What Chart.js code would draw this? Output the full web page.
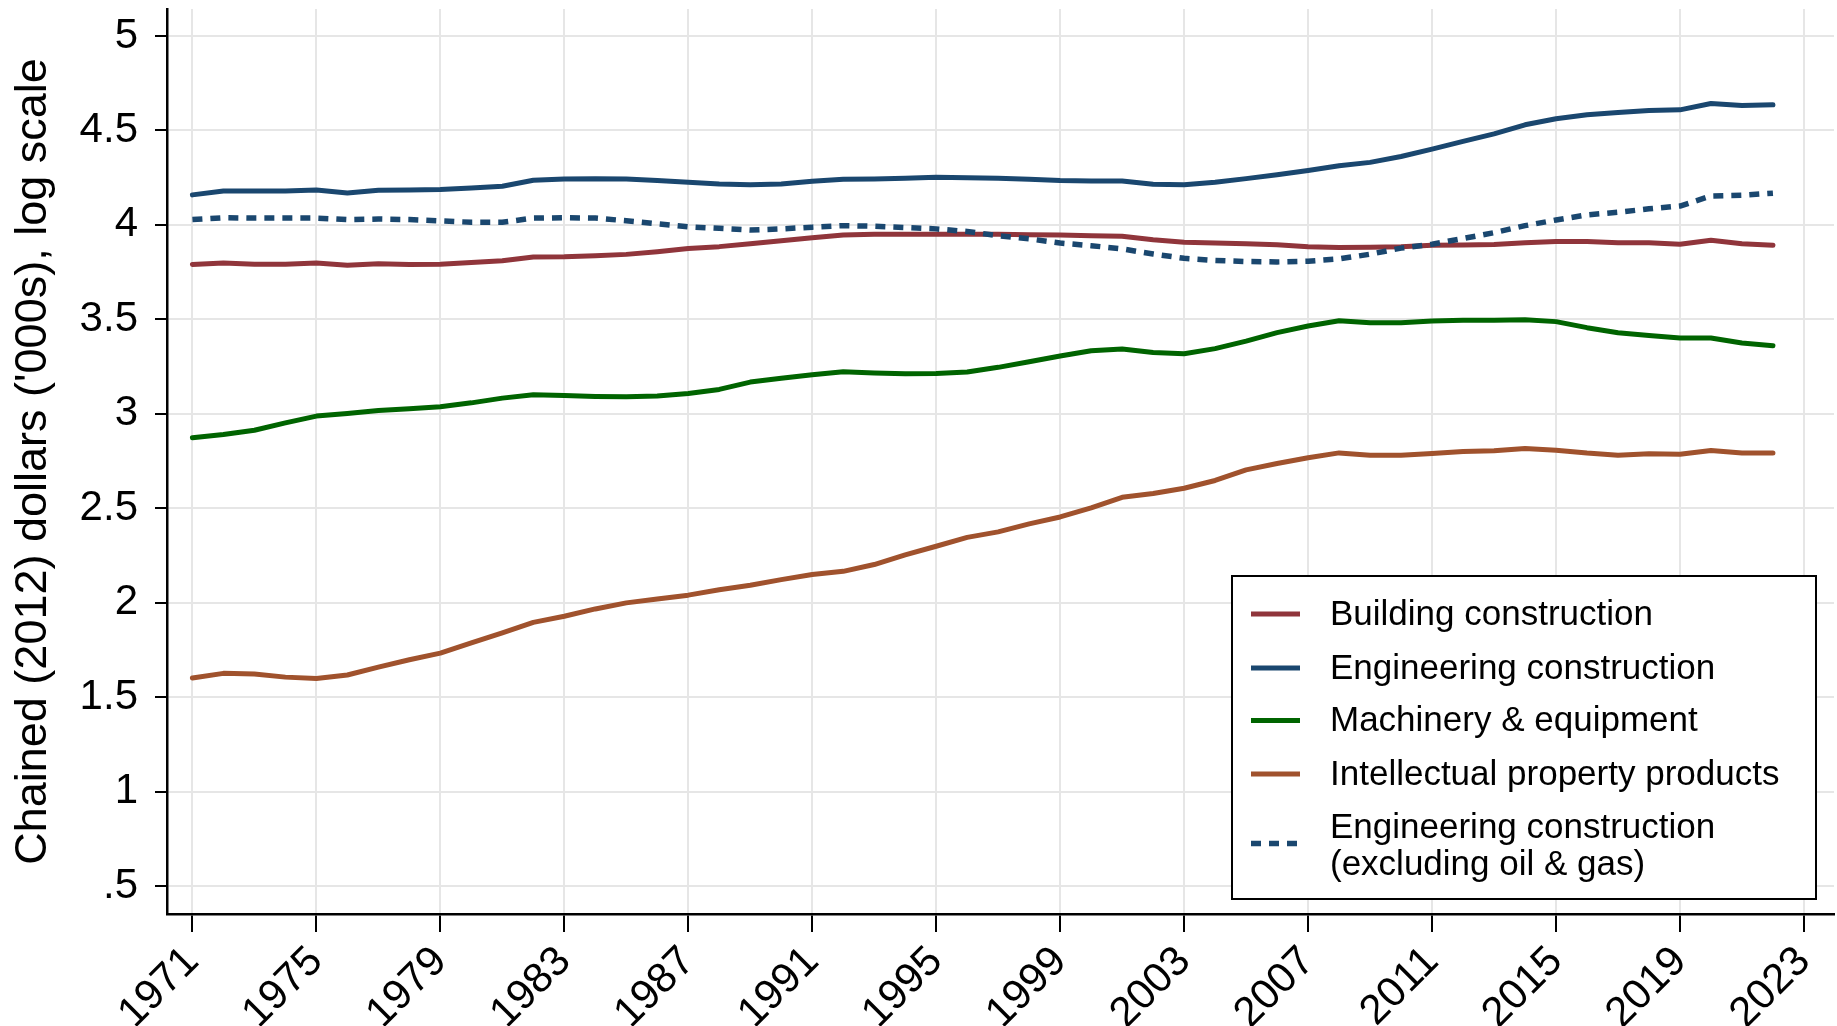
<!DOCTYPE html>
<html>
<head>
<meta charset="utf-8">
<script src="https://cdn.jsdelivr.net/npm/chart.js@4.4.1/dist/chart.umd.min.js"></script>
<style>
  html, body { margin: 0; padding: 0; background: #fff; }
  #wrap { position: relative; width: 1837px; height: 1026px; }
</style>
</head>
<body>
<div id="wrap"><canvas id="chart"></canvas></div>
<script>
// values (chained 2012 dollars, '000s, log)
const years = [
  1971, 1972, 1973, 1974, 1975, 1976, 1977, 1978, 1979, 1980,
  1981, 1982, 1983, 1984, 1985, 1986, 1987, 1988, 1989, 1990,
  1991, 1992, 1993, 1994, 1995, 1996, 1997, 1998, 1999, 2000,
  2001, 2002, 2003, 2004, 2005, 2006, 2007, 2008, 2009, 2010,
  2011, 2012, 2013, 2014, 2015, 2016, 2017, 2018, 2019, 2020,
  2021, 2022
]

const building = [
  3.791, 3.798, 3.792, 3.792, 3.798, 3.787, 3.794, 3.791, 3.792, 3.801,
  3.810, 3.830, 3.831, 3.837, 3.844, 3.858, 3.875, 3.885, 3.900, 3.916,
  3.932, 3.946, 3.950, 3.950, 3.950, 3.950, 3.950, 3.948, 3.946, 3.943,
  3.940, 3.922, 3.908, 3.904, 3.900, 3.895, 3.885, 3.880, 3.882, 3.885,
  3.892, 3.894, 3.896, 3.905, 3.912, 3.912, 3.905, 3.905, 3.898, 3.919,
  3.900, 3.892
]

const engineering = [
  4.159, 4.180, 4.180, 4.180, 4.185, 4.169, 4.183, 4.185, 4.187, 4.196,
  4.205, 4.236, 4.243, 4.245, 4.243, 4.235, 4.226, 4.217, 4.212, 4.217,
  4.231, 4.242, 4.243, 4.247, 4.252, 4.250, 4.247, 4.242, 4.235, 4.233,
  4.233, 4.215, 4.212, 4.226, 4.245, 4.265, 4.288, 4.313, 4.331, 4.362,
  4.401, 4.442, 4.482, 4.530, 4.562, 4.583, 4.595, 4.606, 4.609, 4.643,
  4.632, 4.636
]

const machinery = [
  2.873, 2.890, 2.913, 2.952, 2.988, 3.002, 3.018, 3.027, 3.037, 3.058,
  3.083, 3.101, 3.097, 3.092, 3.090, 3.094, 3.108, 3.129, 3.168, 3.188,
  3.207, 3.223, 3.216, 3.212, 3.214, 3.221, 3.246, 3.276, 3.306, 3.334,
  3.343, 3.324, 3.318, 3.345, 3.385, 3.430, 3.465, 3.493, 3.482, 3.482,
  3.491, 3.495, 3.495, 3.498, 3.488, 3.456, 3.429, 3.415, 3.401, 3.401,
  3.375, 3.360
]

const intellectual = [
  1.601, 1.626, 1.622, 1.606, 1.599, 1.617, 1.659, 1.698, 1.733, 1.787,
  1.840, 1.896, 1.928, 1.967, 1.999, 2.020, 2.040, 2.069, 2.092, 2.122,
  2.149, 2.166, 2.202, 2.253, 2.299, 2.346, 2.375, 2.417, 2.454, 2.502,
  2.558, 2.578, 2.606, 2.647, 2.703, 2.737, 2.767, 2.793, 2.781, 2.781,
  2.790, 2.800, 2.804, 2.816, 2.807, 2.792, 2.781, 2.788, 2.786, 2.806,
  2.792, 2.792
]

const engineeringExOilGas = [
  4.028, 4.038, 4.036, 4.036, 4.036, 4.028, 4.031, 4.028, 4.021, 4.014,
  4.014, 4.036, 4.038, 4.036, 4.022, 4.006, 3.990, 3.982, 3.973, 3.979,
  3.988, 3.996, 3.993, 3.986, 3.979, 3.965, 3.943, 3.926, 3.904, 3.890,
  3.873, 3.846, 3.823, 3.812, 3.806, 3.804, 3.808, 3.820, 3.845, 3.877,
  3.898, 3.928, 3.959, 3.996, 4.026, 4.053, 4.067, 4.085, 4.100, 4.153,
  4.157, 4.168
]

const xTicks = [1971, 1975, 1979, 1983, 1987, 1991, 1995, 1999, 2003, 2007, 2011, 2015, 2019, 2023]
const yTicks = [0.5, 1, 1.5, 2, 2.5, 3, 3.5, 4, 4.5, 5]
const yTickLabels = [".5", "1", "1.5", "2", "2.5", "3", "3.5", "4", "4.5", "5"]

const FONT = "'Liberation Sans', Arial, sans-serif"

const toPoints = values => values.map((v, i) => ({ x: years[i], y: v }))

// Stata-style legend box sitting inside the plot, bottom right
const boxLegend = {
  id: "boxLegend",
  afterDraw(chart) {
    const { ctx, chartArea } = chart
    const w = 584, h = 323
    const x0 = chartArea.right - 18 - w
    const y0 = chartArea.bottom - 15 - h
    const rows = [38, 92, 144.5, 198, 267.5]

    ctx.save()
    ctx.fillStyle = "#fff"
    ctx.fillRect(x0, y0, w, h)
    ctx.strokeStyle = "#000"
    ctx.lineWidth = 2
    ctx.strokeRect(x0, y0, w, h)

    ctx.font = "35px " + FONT
    ctx.textBaseline = "middle"
    ctx.textAlign = "left"

    chart.data.datasets.forEach((ds, i) => {
      const cy = y0 + rows[i]
      ctx.strokeStyle = ds.borderColor
      ctx.lineWidth = ds.borderWidth
      ctx.lineCap = "butt"
      ctx.setLineDash(ds.borderDash || [])
      ctx.beginPath()
      ctx.moveTo(x0 + 19, cy)
      ctx.lineTo(x0 + 68, cy)
      ctx.stroke()
      ctx.setLineDash([])

      ctx.fillStyle = "#000"
      const lines = ds.label.split("\n")
      if (lines.length === 1) {
        ctx.fillText(lines[0], x0 + 98, cy + 1)
      } else {
        ctx.fillText(lines[0], x0 + 98, cy - 15.5)
        ctx.fillText(lines[1], x0 + 98, cy + 21.5)
      }
    })
    ctx.restore()
  }
}

const ctx = document.getElementById("chart").getContext("2d")

new Chart(ctx, {
  type: "line",
  data: {
    datasets: [
      { label: "Building construction", data: toPoints(building), borderColor: "#90353b", borderWidth: 5, order: 5 },
      { label: "Engineering construction", data: toPoints(engineering), borderColor: "#1a476f", borderWidth: 5, order: 4 },
      { label: "Machinery & equipment", data: toPoints(machinery), borderColor: "#006400", borderWidth: 5, order: 3 },
      { label: "Intellectual property products", data: toPoints(intellectual), borderColor: "#a0522d", borderWidth: 5, order: 2 },
      {
        label: "Engineering construction\n(excluding oil & gas)",
        data: toPoints(engineeringExOilGas),
        borderColor: "#1a476f",
        borderWidth: 5.5,
        borderDash: [10, 8],
        borderCapStyle: "butt",
        order: 1
      }
    ]
  },
  options: {
    responsive: true,
    maintainAspectRatio: false,
    animation: false,
    layout: { padding: { left: 0, right: 3, top: 9, bottom: 0 } },
    elements: {
      point: { radius: 0 },
      line: { tension: 0, borderCapStyle: "round", borderJoinStyle: "round", fill: false }
    },
    scales: {
      x: {
        type: "linear",
        position: "bottom",
        min: 1970.18,
        max: 2023.97,
        afterBuildTicks: scale => { scale.ticks = xTicks.map(v => ({ value: v })) },
        afterFit: scale => {
          scale.height = 112
          scale.paddingLeft = 0
          scale.paddingRight = 0
        },
        grid: { color: "#e6e6e6", lineWidth: 2, tickColor: "#000", tickWidth: 2, tickLength: 18 },
        border: { display: true, color: "#000", width: 2.5 },
        ticks: {
          color: "#000",
          font: { family: FONT, size: 42 },
          minRotation: 45,
          maxRotation: 45,
          padding: 5,
          autoSkip: false,
          callback: value => String(value)
        }
      },
      y: {
        type: "linear",
        min: 0.352,
        max: 5.143,
        afterBuildTicks: scale => { scale.ticks = yTicks.map(v => ({ value: v })) },
        afterFit: scale => {
          scale.width = 167
          scale.paddingTop = 0
          scale.paddingBottom = 0
        },
        grid: { color: "#e6e6e6", lineWidth: 2, tickColor: "#000", tickWidth: 2, tickLength: 12 },
        border: { display: true, color: "#000", width: 2.5 },
        ticks: {
          color: "#000",
          font: { family: FONT, size: 42 },
          padding: 17,
          autoSkip: false,
          callback: (value, index) => yTickLabels[index]
        },
        title: {
          display: true,
          text: "Chained (2012) dollars ('000s), log scale",
          color: "#000",
          font: { family: FONT, size: 45 },
          padding: { top: 7, bottom: 0 }
        }
      }
    },
    plugins: {
      legend: { display: false },
      tooltip: { enabled: false },
      title: { display: false }
    }
  },
  plugins: [boxLegend]
})
</script>
</body>
</html>
